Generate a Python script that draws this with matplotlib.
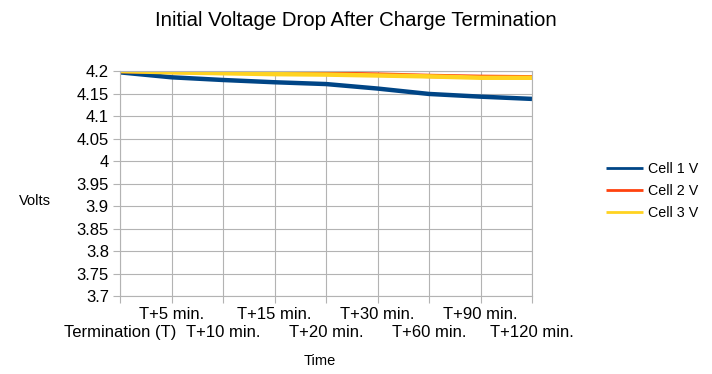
import matplotlib

matplotlib.use("Agg")
import matplotlib.pyplot as plt

plt.rcParams["font.family"] = ["Liberation Sans", "DejaVu Sans"]

categories = ["Termination (T)", "T+5 min.", "T+10 min.", "T+15 min.", "T+20 min.",
              "T+30 min.", "T+60 min.", "T+90 min.", "T+120 min."]
cell1 = [4.197, 4.186, 4.180, 4.175, 4.171, 4.161, 4.149, 4.143, 4.138]
cell2 = [4.200, 4.198, 4.197, 4.195, 4.194, 4.192, 4.189, 4.187, 4.186]
cell3 = [4.200, 4.197, 4.195, 4.193, 4.192, 4.190, 4.188, 4.185, 4.185]
yticks = [3.7, 3.75, 3.8, 3.85, 3.9, 3.95, 4.0, 4.05, 4.1, 4.15, 4.2]

fig = plt.figure(figsize=(7.12, 3.74), dpi=100)
ax = fig.add_axes([120 / 712, 1 - 296 / 374, 412 / 712, 225 / 374])

x = list(range(len(categories)))
series = [("Cell 1 V", cell1, "#004586"), ("Cell 2 V", cell2, "#ff420e"),
          ("Cell 3 V", cell3, "#ffd320")]
for name, vals, color in series:
    ax.plot(x, vals, color=color, lw=3.2, solid_capstyle="butt", label=name)

ax.set_xlim(0, len(categories) - 1)
ax.set_ylim(3.7, 4.2)
ax.set_yticks(yticks)
ax.set_yticklabels([f"{v:g}" for v in yticks])

# labels alternate between two rows: even ones low (major), odd ones high (minor)
ax.set_xticks(x[0::2])
ax.set_xticklabels(categories[0::2])
ax.set_xticks(x[1::2], minor=True)
ax.set_xticklabels(categories[1::2], minor=True)

ax.grid(True, which="both", axis="x", color="#b3b3b3", lw=0.8)
ax.grid(True, axis="y", color="#b3b3b3", lw=0.8)
ax.set_axisbelow(True)
for s in ax.spines.values():
    s.set_color("#b3b3b3")
    s.set_linewidth(0.8)
ax.tick_params(which="both", colors="#b3b3b3", labelcolor="black", labelsize=12,
               length=5, width=0.8)
ax.tick_params(axis="y", pad=3)
ax.tick_params(axis="x", which="minor", pad=3)
ax.tick_params(axis="x", which="major", pad=16)

fig.text(356 / 712, 1 - 20 / 374, "Initial Voltage Drop After Charge Termination",
         ha="center", va="center", fontsize=14.7)
fig.text(35 / 712, 1 - 201 / 374, "Volts", ha="center", va="center", fontsize=10.5)
fig.text(320 / 712, 1 - 361 / 374, "Time", ha="center", va="center", fontsize=10.5)

leg = fig.legend(loc="center left", bbox_to_anchor=(606 / 712, 1 - 191 / 374),
                 frameon=False, fontsize=10.3, handlelength=2.6, handletextpad=0.35,
                 labelspacing=0.55, borderaxespad=0, borderpad=0)
for ln in leg.get_lines():
    ln.set_linewidth(2)

fig.savefig("out.png", dpi=100)
